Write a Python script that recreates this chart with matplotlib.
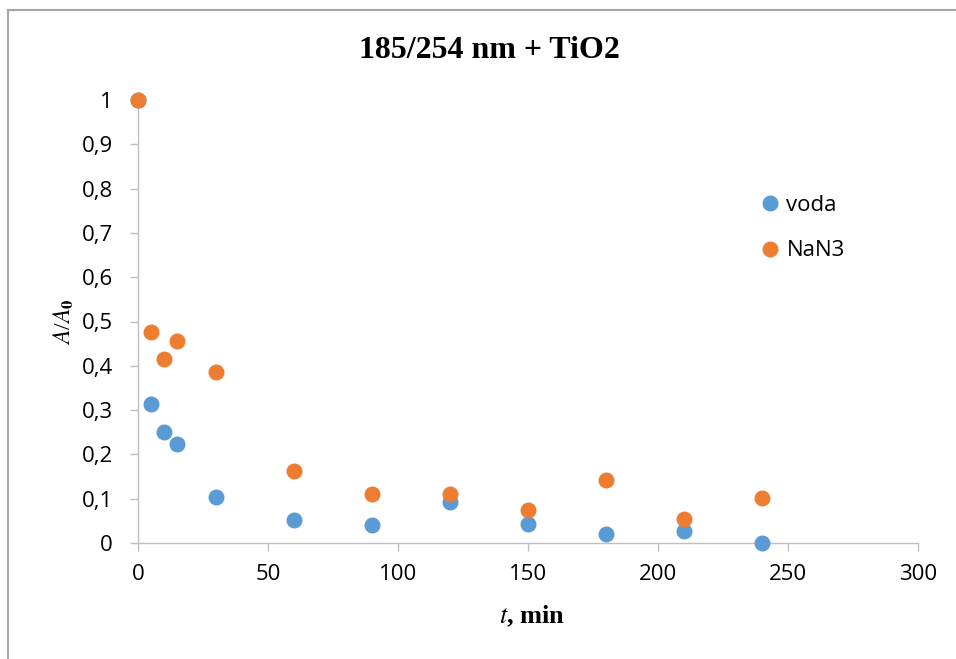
import matplotlib
matplotlib.use("Agg")
import matplotlib.pyplot as plt
from matplotlib.ticker import FuncFormatter, FixedLocator
from matplotlib.lines import Line2D

# Data
t_min = [0, 5, 10, 15, 30, 60, 90, 120, 150, 180, 210, 240]
voda = [1.0, 0.314, 0.251, 0.223, 0.104, 0.052, 0.041, 0.093, 0.043, 0.020, 0.026, 0.0]
nan3 = [1.0, 0.476, 0.415, 0.456, 0.386, 0.163, 0.111, 0.110, 0.074, 0.142, 0.054, 0.102]
series_names = ["voda", "NaN3"]
x_ticks = [0, 50, 100, 150, 200, 250, 300]
y_ticks = [0, 0.1, 0.2, 0.3, 0.4, 0.5, 0.6, 0.7, 0.8, 0.9, 1.0]
title = "185/254 nm + TiO2"

plt.rcParams['mathtext.fontset'] = 'stix'

W, H = 956, 659
fig = plt.figure(figsize=(W / 100, H / 100), dpi=100)
ax = fig.add_axes([138 / W, 1 - 543 / H, (918 - 138) / W, (543 - 100) / H])

blue = "#5B9BD5"
orange = "#ED7D31"
ax.plot(t_min, voda, 'o', color=blue, markersize=10.5, clip_on=False, zorder=3)
ax.plot(t_min, nan3, 'o', color=orange, markersize=10.5, clip_on=False, zorder=4)

ax.set_xlim(0, 300)
ax.set_ylim(0, 1)
ax.xaxis.set_major_locator(FixedLocator(x_ticks))
ax.yaxis.set_major_locator(FixedLocator(y_ticks))
ax.yaxis.set_major_formatter(FuncFormatter(lambda v, p: ("%g" % round(v, 1)).replace('.', ',')))

for s in ['top', 'right']:
    ax.spines[s].set_visible(False)
for s in ['left', 'bottom']:
    ax.spines[s].set_color('#BFBFBF')
    ax.spines[s].set_linewidth(1.0)
ax.tick_params(axis='both', direction='out', length=6, width=1.0, color='#BFBFBF',
               labelsize=16, labelcolor='#000000')
ax.tick_params(axis='y', pad=12)
ax.tick_params(axis='x', pad=9)
for lab in ax.get_xticklabels() + ax.get_yticklabels():
    lab.set_family(['Open Sans', 'DejaVu Sans'])

fig.text(489 / W, 1 - 50 / H, title, ha='center', va='center',
         fontsize=23, fontweight='bold', family='Liberation Serif')
fig.text(532 / W, 1 - 616 / H, r"$\mathit{t}$, min", ha='center', va='center',
         fontsize=19, fontweight='bold', family='Liberation Serif')
fig.text(64 / W, 1 - 322 / H, r"$\mathit{A}$/$\mathit{A}_{\mathbf{0}}$", ha='center', va='center',
         rotation=90, fontsize=17, family='Liberation Serif')

handles = [Line2D([], [], marker='o', linestyle='none', color=blue, markersize=10.5),
           Line2D([], [], marker='o', linestyle='none', color=orange, markersize=10.5)]
leg = fig.legend(handles, series_names, loc='upper left',
                 bbox_to_anchor=(762 / W, 1 - 195 / H), frameon=False,
                 handlelength=0.7, handletextpad=0.4, labelspacing=1.1,
                 prop={'family': 'Open Sans', 'size': 16}, borderaxespad=0, borderpad=0)

border = '#A6A6A6'
fig.add_artist(Line2D([7.5 / W, 7.5 / W], [0, 1 - 9.5 / H], transform=fig.transFigure,
                      color=border, linewidth=1.5))
fig.add_artist(Line2D([7.5 / W, 1], [1 - 9.5 / H, 1 - 9.5 / H], transform=fig.transFigure,
                      color=border, linewidth=1.5))

fig.savefig("out.png", dpi=100)
